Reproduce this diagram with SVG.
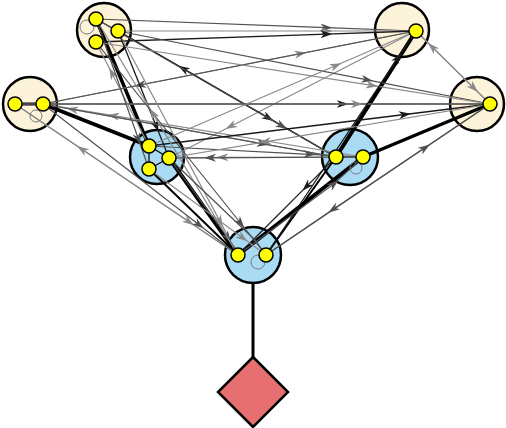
<svg xmlns="http://www.w3.org/2000/svg" width="506" height="428" viewBox="0 0 506 428">
<style>
.grp{stroke:#000;stroke-width:2.5}
.beige{fill:#fcf3da}
.blue{fill:#a9dbf4}
.v{fill:#ffff00;stroke:#000;stroke-width:1.5}
.e{fill:none;stroke-linecap:round}
.k{stroke:#1a1a1a;stroke-width:1.3;marker-mid:url(#mk)}
.d{stroke:#505050;stroke-width:1.2;marker-mid:url(#md)}
.g{stroke:#8a8a8a;stroke-width:1.2;marker-mid:url(#mg)}
.t{stroke:#000;fill:none;stroke-linecap:round}
.loop{fill:none;stroke:#7a7a7a;stroke-width:1}
</style>
<defs>
<marker id="mk" markerUnits="userSpaceOnUse" markerWidth="12" markerHeight="8" viewBox="0 0 12 8" refX="6" refY="4" orient="auto"><path d="M0,0 L12,4 L0,8 L3.5,4 z" fill="#1a1a1a"/></marker>
<marker id="md" markerUnits="userSpaceOnUse" markerWidth="12" markerHeight="8" viewBox="0 0 12 8" refX="6" refY="4" orient="auto"><path d="M0,0 L12,4 L0,8 L3.5,4 z" fill="#505050"/></marker>
<marker id="mg" markerUnits="userSpaceOnUse" markerWidth="12" markerHeight="8" viewBox="0 0 12 8" refX="6" refY="4" orient="auto"><path d="M0,0 L12,4 L0,8 L3.5,4 z" fill="#8a8a8a"/></marker>
</defs>
<g id="groups">
<g id="groupA"><circle class="grp beige" cx="104" cy="30" r="27"/></g>
<g id="groupB"><circle class="grp beige" cx="402" cy="30" r="27"/></g>
<g id="groupC"><circle class="grp beige" cx="30" cy="104" r="27"/></g>
<g id="groupD"><circle class="grp beige" cx="477" cy="104" r="27"/></g>
<g id="groupE"><circle class="grp blue" cx="157" cy="157" r="27"/></g>
<g id="groupF"><circle class="grp blue" cx="350" cy="157" r="28"/></g>
<g id="groupG"><circle class="grp blue" cx="253" cy="255" r="28"/></g>
<g id="root"><polygon points="253,357 288,392 253,427 218,392" fill="#e86f6f" stroke="#000" stroke-width="2.5"/></g>
</g>
<g id="connectors">
<line x1="253" y1="283" x2="253" y2="357" stroke="#000" stroke-width="3"/>
<path class="t" stroke-width="4" d="M43,104 L149,146"/>
<path class="t" stroke-width="3.5" d="M96,19 L149,146"/>
<path class="t" stroke-width="4" d="M169,158 L238,255"/>
<path class="t" stroke-width="2" d="M149,169 L238,255"/>
<path class="t" stroke-width="4" d="M416,31 L336,157"/>
<path class="t" stroke-width="3.5" d="M490,104 L363,157"/>
<path class="t" stroke-width="4" d="M363,157 L238,255"/>
<path class="t" stroke-width="2" d="M336,157 L266,255"/>
<path class="t" stroke-width="3" d="M15,104 L43,104"/>
<path class="t" stroke-width="1.2" d="M149,146 L169,158 L149,169 M149,146 L149,169 M336,157 L363,157"/>
<path class="e d" d="M96,19 L118,31" style="marker:none"/>
<path class="e d" d="M96,19 L326.4,27.6 L416,31"/>
<path class="e g" d="M118,31 L326.6,31 L416,31"/>
<path class="e k" d="M96,42 L326.4,34.1 L416,31"/>
<path class="e g" d="M43,104 L300.4,53.6 L416,31"/>
<path class="e d" d="M416,31 L140,85 L43,104"/>
<path class="e g" d="M416,31 L230.8,126.3 L169,158"/>
<path class="e k" d="M336,157 L183.4,68.8 L118,31"/>
<path class="e k" d="M118,31 L268.4,117.9 L336,157"/>
<path class="e d" d="M96,19 L282,126 L336,157"/>
<path class="e k" d="M43,104 L342.5,104 L490,104"/>
<path class="e g" d="M15,104 L357,104 L490,104"/>
<path class="e d" d="M118,31 L367.2,79.9 L490,104"/>
<path class="e g" d="M96,42 L371.8,85.4 L490,104"/>
<path class="e g" d="M336,157 L222.4,157.3 L169,158"/>
<path class="e d" d="M363,157 L210,157.8 L169,158"/>
<path class="e g" d="M363,157 L113.4,115.7 L43,104"/>
<path class="e g" d="M336,157 L72.3,109.3 L43,104"/>
<path class="e g" d="M15,104 L189,221.8 L238,255"/>
<path class="e g" d="M238,255 L82,149.3 L15,104"/>
<path class="e d" d="M43,104 L199,224.8 L238,255"/>
<path class="e g" d="M118,31 L220,221.4 L238,255"/>
<path class="e d" d="M96,42 L240.5,223 L266,255"/>
<path class="e g" d="M149,146 L111.9,73.2 L96,42"/>
<path class="e k" d="M118,31 L156.3,126.3 L169,158"/>
<path class="e g" d="M416,31 L473.7,87.9 L490,104"/>
<path class="e g" d="M490,104 L432.3,47.1 L416,31"/>
<path class="e k" d="M266,255 L398,57.9 L416,31"/>
<path class="e d" d="M266,255 L425,147.8 L490,104"/>
<path class="e d" d="M490,104 L333.2,209.3 L266,255"/>
<path class="e k" d="M336,157 L306.6,186.4 L238,255"/>
<path class="e d" d="M238,255 L333.9,183.9 L363,157"/>
<path class="e d" d="M149,146 L309.5,154.3 L363,157"/>
<path class="e d" d="M43,104 L262.8,143.8 L336,157"/>
<path class="e g" d="M149,146 L335.9,65.5 L416,31"/>
<path class="e k" d="M149,146 L404.8,114.5 L490,104"/>
<path class="e d" d="M169,158 L227.7,237.5 L238,255"/>
<path class="e g" d="M149,169 L242.6,237.8 L266,255"/>
<path class="e g" d="M238,255 L152.8,113.4 L96,19"/>
<path class="e d" d="M96,19 L138.4,139 L149,169"/>
<path class="e g" d="M490,104 L265.3,141.8 L169,158"/>
<path class="e d" d="M169,158 L255,240 L266,255" style="marker:none"/>
<circle class="loop" cx="87" cy="27" r="7"/>
<circle class="loop" cx="36" cy="116" r="6"/>
<circle class="loop" cx="356" cy="168" r="6"/>
<circle class="loop" cx="258" cy="262" r="7"/>
</g>
<g id="vA1"><circle class="v" cx="96" cy="19" r="7"/></g>
<g id="vA2"><circle class="v" cx="118" cy="31" r="7"/></g>
<g id="vA3"><circle class="v" cx="96" cy="42" r="7"/></g>
<g id="vB1"><circle class="v" cx="416" cy="31" r="7"/></g>
<g id="vC1"><circle class="v" cx="15" cy="104" r="7"/></g>
<g id="vC2"><circle class="v" cx="43" cy="104" r="7"/></g>
<g id="vD1"><circle class="v" cx="490" cy="104" r="7"/></g>
<g id="vE1"><circle class="v" cx="149" cy="146" r="7"/></g>
<g id="vE2"><circle class="v" cx="169" cy="158" r="7"/></g>
<g id="vE3"><circle class="v" cx="149" cy="169" r="7"/></g>
<g id="vF1"><circle class="v" cx="336" cy="157" r="7"/></g>
<g id="vF2"><circle class="v" cx="363" cy="157" r="7"/></g>
<g id="vG1"><circle class="v" cx="238" cy="255" r="7"/></g>
<g id="vG2"><circle class="v" cx="266" cy="255" r="7"/></g>
</svg>
